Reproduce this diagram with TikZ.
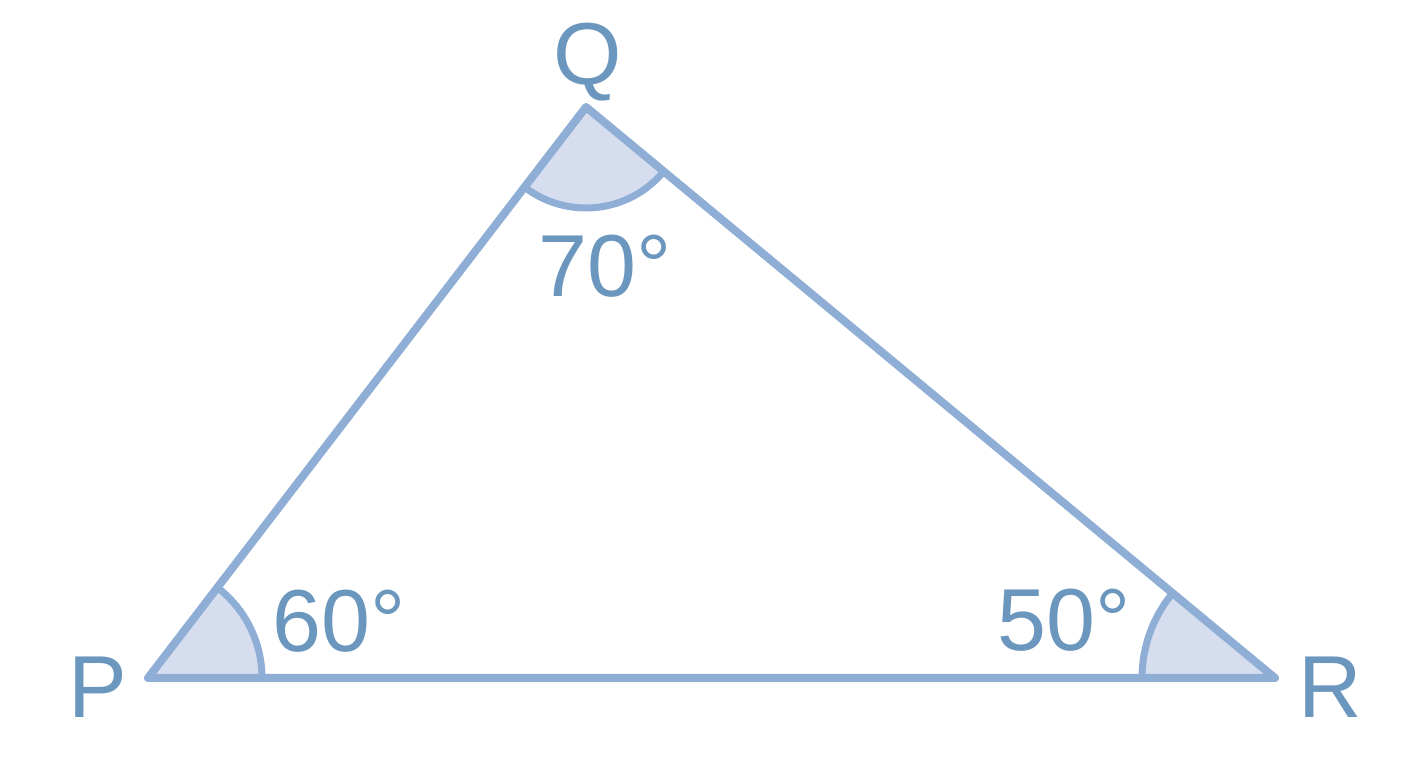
\documentclass[tikz,border=0pt]{standalone}
\usetikzlibrary{calc}
\usepackage{fontspec}
\setmainfont{Liberation Sans}
\definecolor{edgeblue}{HTML}{8FAED6}
\definecolor{fillblue}{HTML}{D6DDEE}
\definecolor{textblue}{HTML}{6B96BE}
\tikzset{
  side/.style={draw=edgeblue, line width=8pt, line join=round, line cap=round},
  anglefill/.style={fill=fillblue},
  anglearc/.style={draw=edgeblue, line width=7pt},
  lbl/.style={text=textblue, inner sep=0pt, font=\fontsize{88}{96}\selectfont}
}
\begin{document}
\begin{tikzpicture}[x=1pt,y=1pt]
\useasboundingbox[fill=white] (0,0) rectangle (1408,768);
\coordinate (P) at (148,90);
\coordinate (Q) at (586,661);
\coordinate (R) at (1275,90);
% sectors
\fill[anglefill] (P) -- ++(0:114) arc[start angle=0, end angle=52.5, radius=114] -- cycle;
\fill[anglefill] (Q) -- ++(232.5:101) arc[start angle=232.5, end angle=320.35, radius=101] -- cycle;
\fill[anglefill] (R) -- ++(140.35:133) arc[start angle=140.35, end angle=180, radius=133] -- cycle;
% arcs
\draw[anglearc] ($(P)+(0:114)$) arc[start angle=0, end angle=52.5, radius=114];
\draw[anglearc] ($(Q)+(232.5:101)$) arc[start angle=232.5, end angle=320.35, radius=101];
\draw[anglearc] ($(R)+(140.35:133)$) arc[start angle=140.35, end angle=180, radius=133];
% triangle
\draw[side] (P) -- (Q) -- (R) -- cycle;
% labels
\node[lbl] (lQ) at (588,706) {Q};
\node[lbl] (lP) at (98,81) {P};
\node[lbl] (lR) at (1330,81) {R};
\node[lbl] (aQ) at (605,502) {70°};
\node[lbl] (aP) at (339,147) {60°};
\node[lbl] (aR) at (1064,148) {50°};
\end{tikzpicture}
\end{document}
